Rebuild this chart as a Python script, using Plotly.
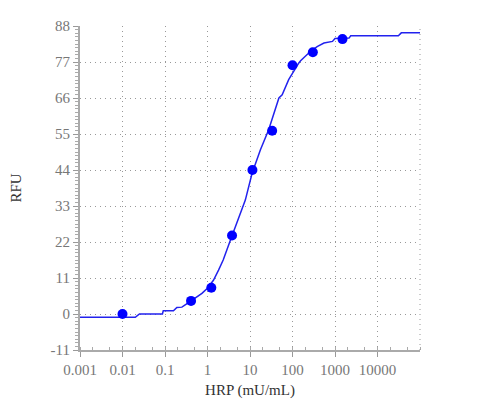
import plotly.graph_objects as go

# measured standards
std_conc = [0.01, 0.41, 1.23, 3.78, 11.4, 33.2, 100, 301, 1500]
std_rfu = [0, 4, 8, 24, 44, 56, 76, 80, 84]

# fitted curve as drawn (stepped)
fit_conc = [0.001, 0.02, 0.025, 0.087, 0.091, 0.158, 0.19, 0.25, 0.33, 0.42,
            0.56, 0.74, 0.98, 1.38, 1.82, 2.34, 3.47, 7.76, 11.2, 17.6,
            27.5, 47.9, 57.1, 75, 81.3, 141, 155, 263, 380, 550,
            871, 1000, 2138, 2344, 30900, 36300, 100000]
fit_rfu = [-1, -1, 0, 0, 1, 1, 2, 2.1, 3.2, 4.2,
           5.3, 6.3, 7.8, 10.3, 13.4, 16.5, 22.6, 34.8, 43, 50.2,
           56.3, 66, 67, 71, 71.6, 76.7, 77.4, 80.2, 81.7, 82.8,
           83.3, 84.2, 84.3, 85, 85, 85.9, 85.9]

x_ticks = [0.001, 0.01, 0.1, 1, 10, 100, 1000, 10000]
x_ticktext = ["0.001", "0.01", "0.1", "1", "10", "100", "1000", "10000"]
y_ticks = [-11, 0, 11, 22, 33, 44, 55, 66, 77, 88]
y_ticktext = ["-11", "0", "11", "22", "33", "44", "55", "66", "77", "88"]

serif = "serif"
dots = "1px,4px"

fig = go.Figure()

fig.add_trace(go.Scatter(
    x=fit_conc, y=fit_rfu,
    mode="lines",
    line=dict(color="#2222ee", width=1.5),
    showlegend=False
))

fig.add_trace(go.Scatter(
    x=std_conc, y=std_rfu,
    mode="markers",
    marker=dict(color="#0000ff", size=10),
    showlegend=False
))

# right edge grid line
fig.add_shape(type="line", xref="paper", yref="paper", x0=1, x1=1, y0=0, y1=1,
              line=dict(color="#999999", width=1, dash=dots))

fig.update_layout(
    width=500, height=400,
    margin=dict(l=72, r=88, t=18, b=58),
    plot_bgcolor="white", paper_bgcolor="white",
    font=dict(family=serif, size=14, color="#777777"),
    xaxis=dict(
        type="log",
        range=[-3, 5],
        automargin=False,
        tickvals=x_ticks,
        ticktext=x_ticktext,
        showgrid=True, gridcolor="#999999", griddash=dots, gridwidth=1,
        showline=True, linecolor="#aaaaaa", linewidth=2,
        ticks="outside", ticklen=5, tickcolor="#999999",
        minor=dict(ticks="inside", ticklen=3, tickcolor="#aaaaaa", showgrid=False),
        zeroline=False,
        tickfont=dict(family=serif, size=15, color="#777777"),
        title=dict(text="HRP (mU/mL)", font=dict(family=serif, size=15, color="#333333"), standoff=7),
    ),
    yaxis=dict(
        range=[-11, 88],
        automargin=False,
        tickvals=y_ticks,
        ticktext=y_ticktext,
        showgrid=True, gridcolor="#999999", griddash=dots, gridwidth=1,
        showline=True, linecolor="#aaaaaa", linewidth=2,
        ticks="outside", ticklen=5, tickcolor="#999999",
        minor=dict(dtick=1.1, ticks="outside", ticklen=3, tickcolor="#aaaaaa", showgrid=False),
        zeroline=False,
        tickfont=dict(family=serif, size=15, color="#777777"),
        title=dict(text="RFU", font=dict(family=serif, size=15, color="#333333"), standoff=33),
    ),
)

fig.write_html("out.html")
